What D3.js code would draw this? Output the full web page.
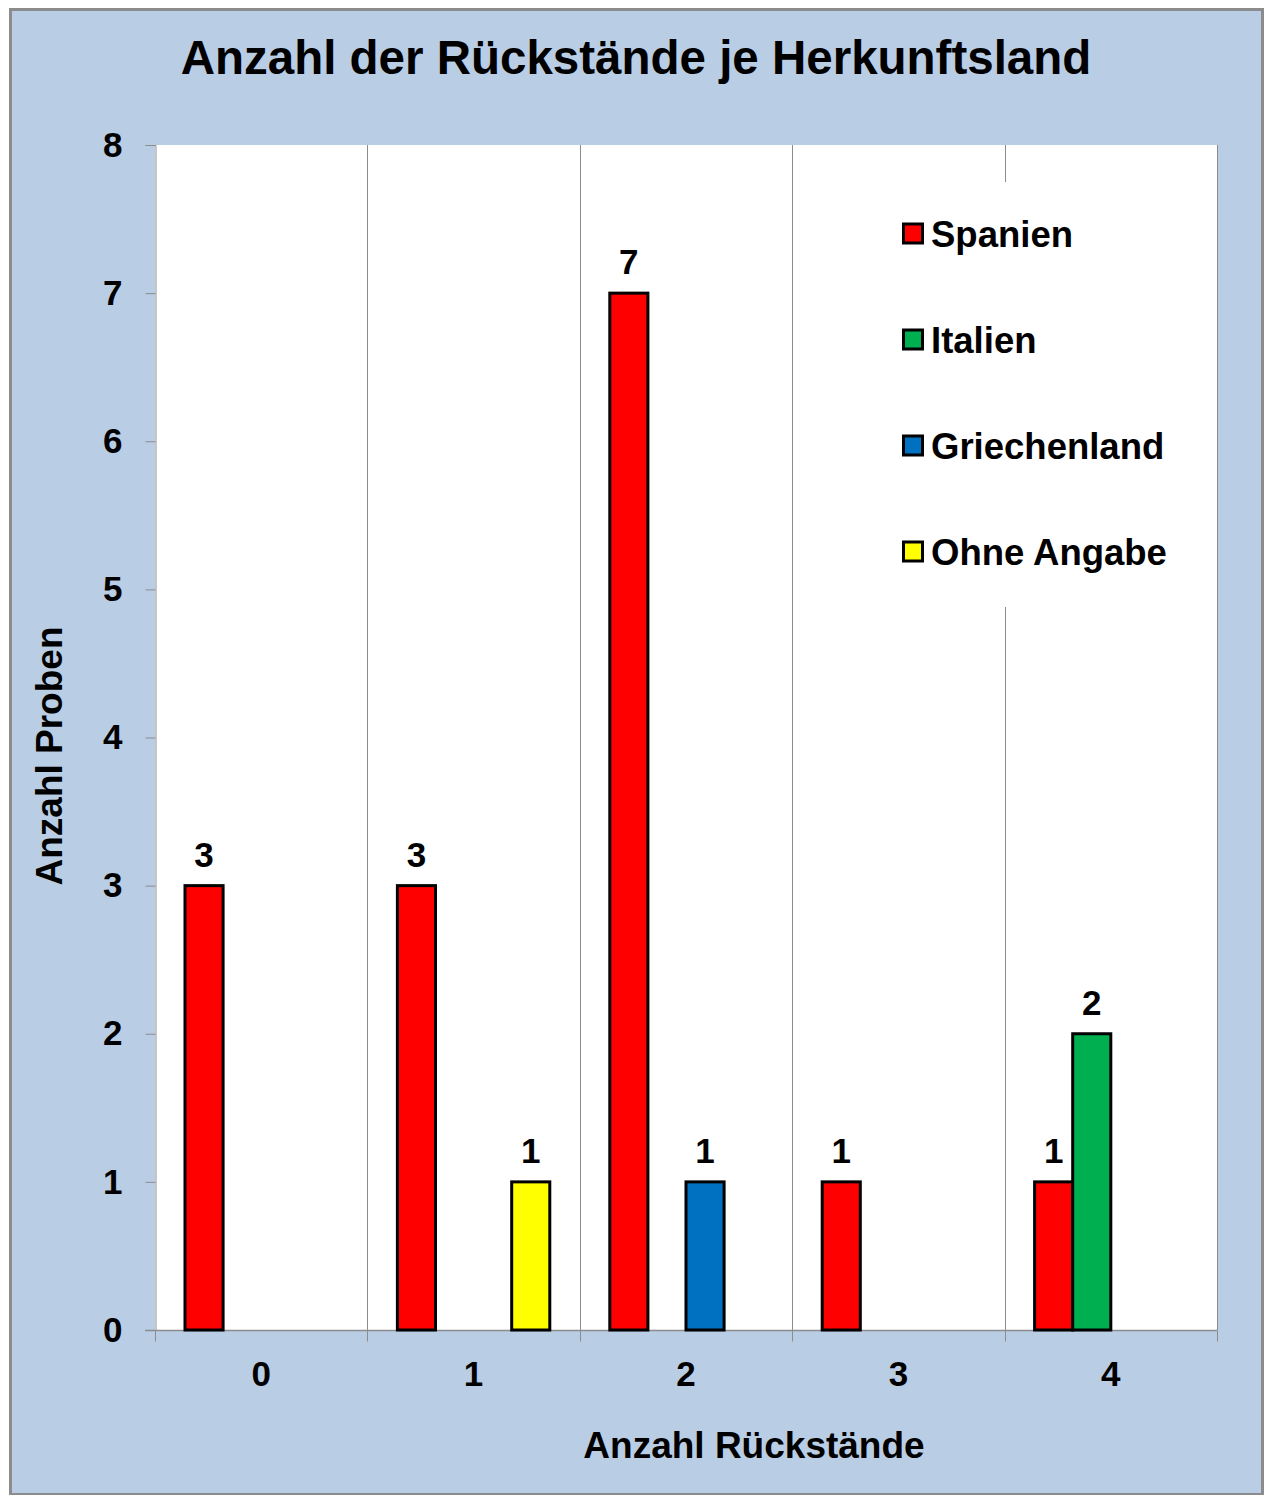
<!DOCTYPE html>
<html>
<head>
<meta charset="utf-8">
<script src="https://cdn.jsdelivr.net/npm/d3@7"></script>
<style>
  html, body { margin: 0; padding: 0; background: #ffffff; }
  svg { display: block; }
  text { font-family: "Liberation Sans", Arial, sans-serif; font-weight: bold; fill: #000; }
</style>
</head>
<body>
<svg id="chart" width="1264" height="1495"></svg>
<script>
// Number of residues per sample (x categories)
const categories = ["0", "1", "2", "3", "4"];
// Origin countries (series) and their colours
const seriesNames = ["Spanien", "Italien", "Griechenland", "Ohne Angabe"];
const seriesColors = ["#FF0000", "#00B050", "#0070C0", "#FFFF00"];
// Sample counts per series, one value per category
const spanien      = [3, 3, 7, 1, 1];
const italien      = [0, 0, 0, 0, 2];
const griechenland = [0, 0, 1, 0, 0];
const ohneAngabe   = [0, 1, 0, 0, 0];
const yTicks = [0, 1, 2, 3, 4, 5, 6, 7, 8];

const seriesValues = [spanien, italien, griechenland, ohneAngabe];

const svg = d3.select("#chart");

// Outer frame
svg.append("rect")
  .attr("x", 10.5).attr("y", 9.5)
  .attr("width", 1252).attr("height", 1485)
  .attr("fill", "#B9CDE5")
  .attr("stroke", "#8C8C8C").attr("stroke-width", 3);

const plot = { left: 155, top: 145, right: 1217, bottom: 1330 };

const x0 = d3.scaleBand().domain(categories)
  .range([plot.left, plot.right]).paddingInner(0).paddingOuter(0);
// Inner scale for the four bars inside each category (30px gap on each side)
const groupPad = 30;
const x1 = d3.scaleBand().domain(seriesNames)
  .range([groupPad, x0.bandwidth() - groupPad]).paddingInner(0).paddingOuter(0);

const y = d3.scaleLinear().domain([0, 8]).range([plot.bottom, plot.top]);

// Plot area
svg.append("rect")
  .attr("x", plot.left).attr("y", plot.top)
  .attr("width", plot.right - plot.left).attr("height", plot.bottom - plot.top)
  .attr("fill", "#ffffff");

// Vertical gridlines at category boundaries
const boundaries = categories.slice(1).map(c => x0(c)).concat([plot.right]);
svg.append("g").selectAll("line").data(boundaries).join("line")
  .attr("x1", d => Math.round(d) + 0.5).attr("x2", d => Math.round(d) + 0.5)
  .attr("y1", plot.top).attr("y2", plot.bottom)
  .attr("stroke", "#8C8C8C").attr("stroke-width", 1);

// Y axis
const yAxis = d3.axisLeft(y).tickValues(yTicks).tickSize(10).tickPadding(23)
  .tickFormat(d3.format("d"));
const gy = svg.append("g").attr("transform", `translate(${plot.left + 0.5},0)`).call(yAxis);
gy.select(".domain").attr("stroke", "#8C8C8C").attr("stroke-width", 1);
gy.selectAll(".tick line").attr("stroke", "#8C8C8C");
gy.selectAll(".tick text")
  .attr("font-size", 35).attr("font-weight", "bold")
  .attr("font-family", "'Liberation Sans', Arial, sans-serif").attr("fill", "#000");

// X axis: category labels centred, tick marks at boundaries
const xAxisG = svg.append("g").attr("transform", `translate(0,${plot.bottom + 0.5})`);
xAxisG.append("line")
  .attr("x1", plot.left - 10).attr("x2", plot.right)
  .attr("y1", 0).attr("y2", 0)
  .attr("stroke", "#8C8C8C").attr("stroke-width", 1.5);
const tickPos = [plot.left].concat(boundaries);
xAxisG.selectAll("line.t").data(tickPos).join("line").attr("class", "t")
  .attr("x1", d => Math.round(d) + 0.5).attr("x2", d => Math.round(d) + 0.5)
  .attr("y1", 0).attr("y2", 11)
  .attr("stroke", "#8C8C8C");
xAxisG.selectAll("text").data(categories).join("text")
  .attr("x", d => x0(d) + x0.bandwidth() / 2)
  .attr("y", 55)
  .attr("text-anchor", "middle")
  .attr("font-size", 35)
  .text(d => d);

// Bars (zero values are not drawn)
const barData = [];
categories.forEach((c, ci) => {
  seriesNames.forEach((s, si) => {
    const v = seriesValues[si][ci];
    if (v > 0) barData.push({ cat: c, series: s, color: seriesColors[si], value: v });
  });
});

const bars = svg.append("g");
bars.selectAll("rect").data(barData).join("rect")
  .attr("x", d => x0(d.cat) + x1(d.series))
  .attr("y", d => y(d.value))
  .attr("width", x1.bandwidth())
  .attr("height", d => y(0) - y(d.value))
  .attr("fill", d => d.color)
  .attr("stroke", "#000").attr("stroke-width", 3);

// Value labels
bars.selectAll("text").data(barData).join("text")
  .attr("x", d => x0(d.cat) + x1(d.series) + x1.bandwidth() / 2)
  .attr("y", d => y(d.value) - 19)
  .attr("text-anchor", "middle")
  .attr("font-size", 35)
  .text(d => d.value);

// Legend
const legend = svg.append("g");
legend.append("rect")
  .attr("x", 893).attr("y", 182).attr("width", 300).attr("height", 425)
  .attr("fill", "#ffffff");
const legendItems = legend.selectAll("g").data(seriesNames).join("g")
  .attr("transform", (d, i) => `translate(903,${235 + i * 106})`);
legendItems.append("rect")
  .attr("x", 0.5).attr("y", -11).attr("width", 19).attr("height", 19)
  .attr("fill", (d, i) => seriesColors[i])
  .attr("stroke", "#000").attr("stroke-width", 3);
legendItems.append("text")
  .attr("x", 28).attr("y", 12)
  .attr("font-size", 36.5)
  .text(d => d);

// Titles
svg.append("text")
  .attr("x", 636).attr("y", 74)
  .attr("text-anchor", "middle")
  .attr("font-size", 47.5)
  .text("Anzahl der Rückstände je Herkunftsland");

svg.append("text")
  .attr("x", 754).attr("y", 1458)
  .attr("text-anchor", "middle")
  .attr("font-size", 37)
  .text("Anzahl Rückstände");

svg.append("text")
  .attr("transform", "translate(62,756) rotate(-90)")
  .attr("text-anchor", "middle")
  .attr("font-size", 37)
  .text("Anzahl Proben");
</script>
</body>
</html>
